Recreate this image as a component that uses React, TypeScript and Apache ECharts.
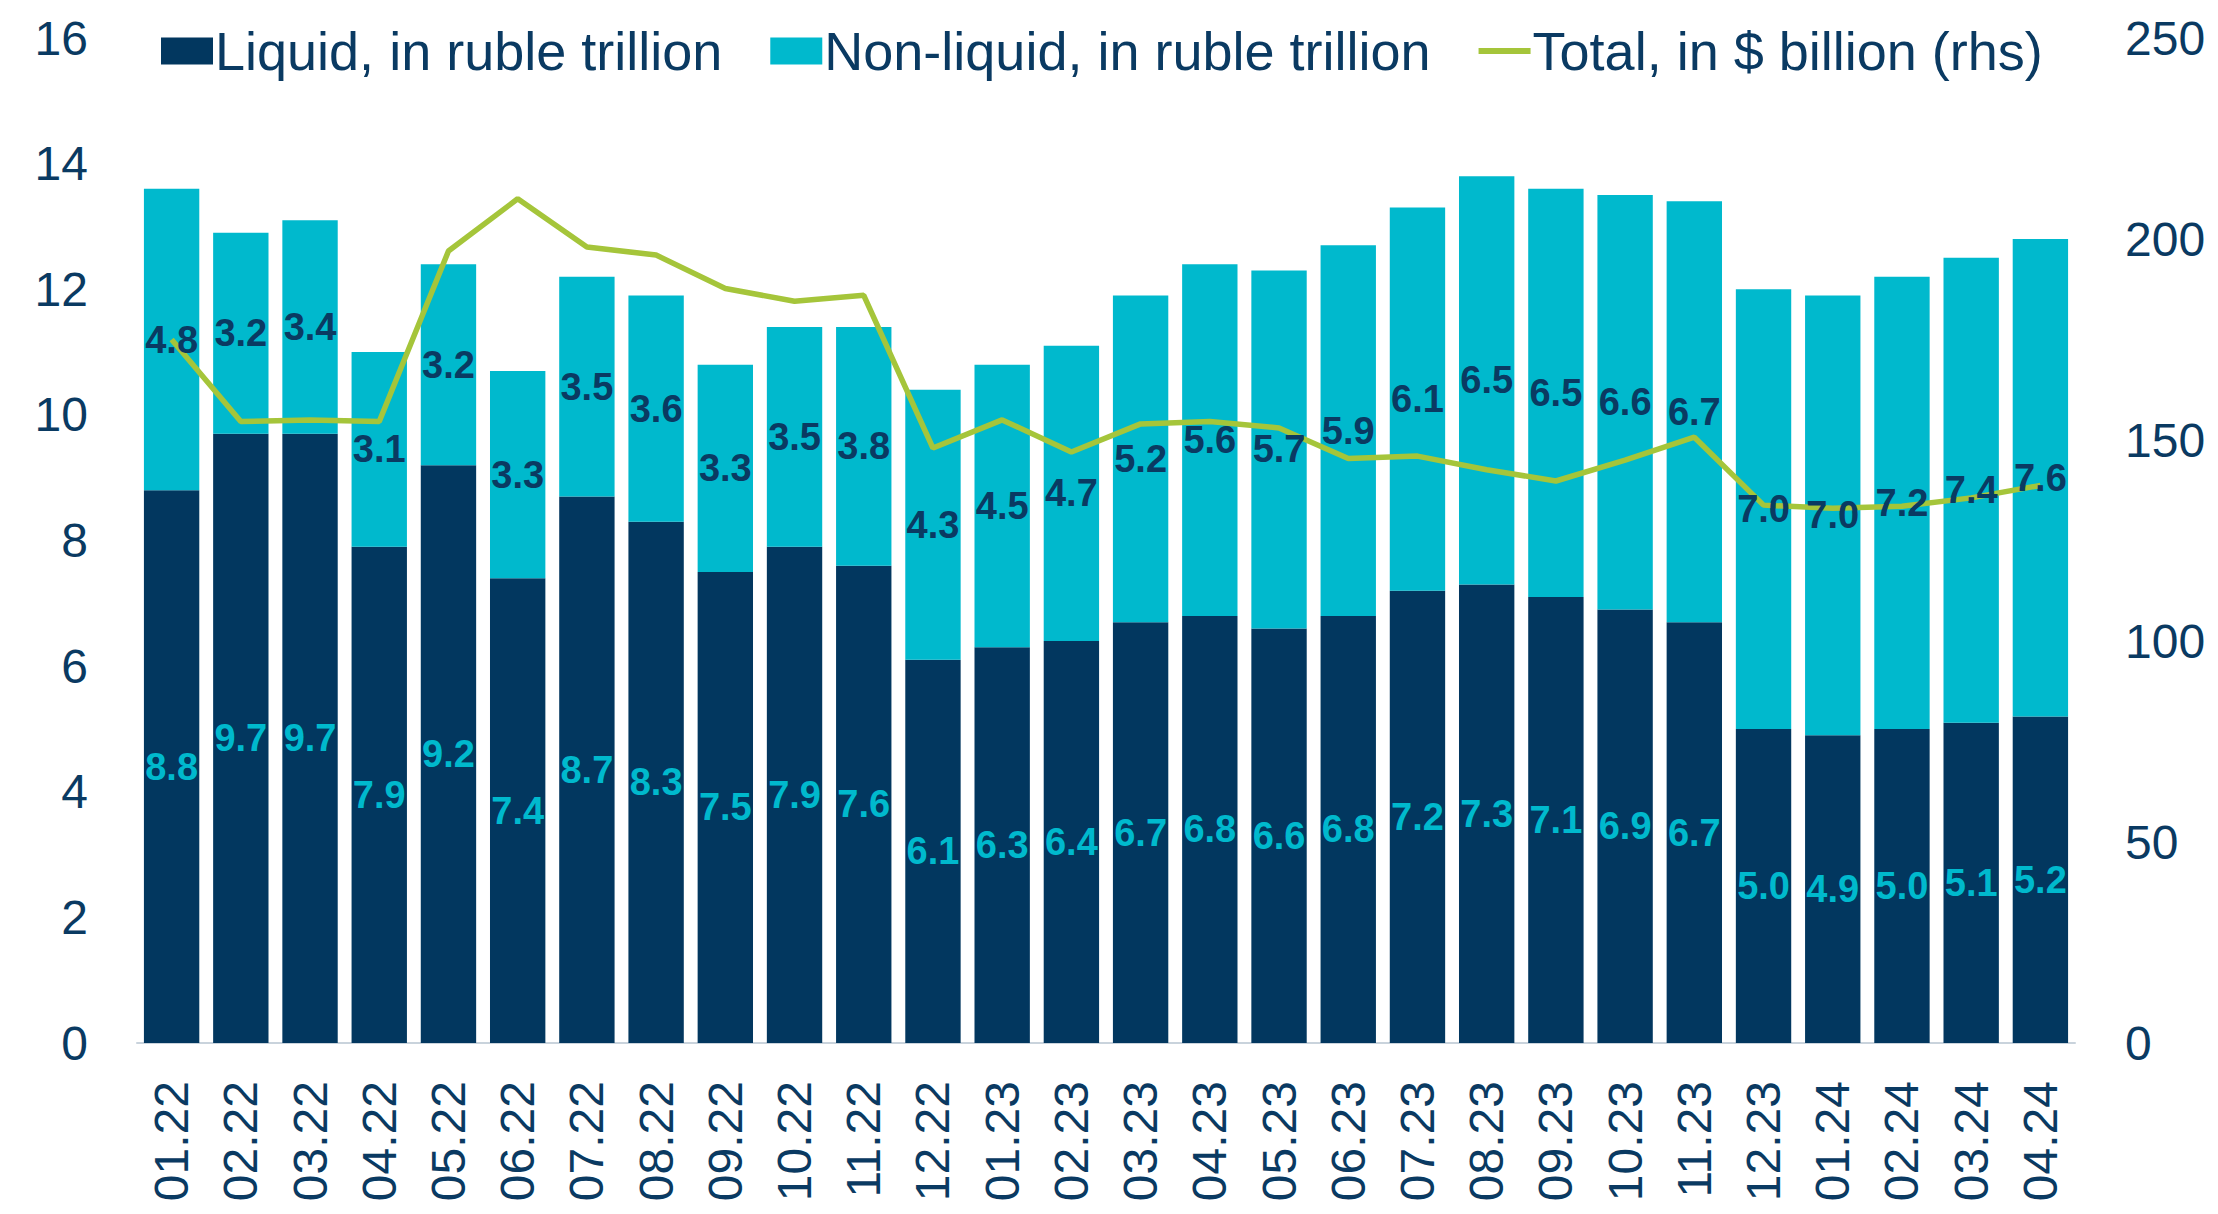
import React, { useEffect, useRef } from "react";
import * as echarts from "echarts";

const categories = ["01.22","02.22","03.22","04.22","05.22","06.22","07.22","08.22","09.22","10.22","11.22","12.22","01.23","02.23","03.23","04.23","05.23","06.23","07.23","08.23","09.23","10.23","11.23","12.23","01.24","02.24","03.24","04.24"];
const liquid = [8.8,9.7,9.7,7.9,9.2,7.4,8.7,8.3,7.5,7.9,7.6,6.1,6.3,6.4,6.7,6.8,6.6,6.8,7.2,7.3,7.1,6.9,6.7,5.0,4.9,5.0,5.1,5.2];
const nonLiquid = [4.8,3.2,3.4,3.1,3.2,3.3,3.5,3.6,3.3,3.5,3.8,4.3,4.5,4.7,5.2,5.6,5.7,5.9,6.1,6.5,6.5,6.6,6.7,7.0,7.0,7.2,7.4,7.6];
const totalUsd = [175,154.6,155,154.6,197,210,198,196,187.7,184.5,186,148,155,147,154,154.6,153,145.4,146,142.6,139.8,145,150.7,133.8,133,133.5,135.6,138.7];
const seriesNames = ["Liquid, in ruble trillion","Non-liquid, in ruble trillion","Total, in $ billion (rhs)"];

const NAVY = "#02375F";
const CYAN = "#00B9CD";
const GREEN = "#A5C53A";
const TEXT = "#0A3A62";
const FONT = "'Liberation Sans', Arial, sans-serif";

const labelStyle = (color: string) => ({
  show: true,
  position: "inside",
  color,
  fontSize: 38,
  fontWeight: "bold",
  fontFamily: FONT,
  formatter: (p: any) => Number(p.value).toFixed(1),
});

export default function App() {
  const ref = useRef<HTMLDivElement>(null);
  useEffect(() => {
    if (!ref.current) return;
    const chart = echarts.init(ref.current, null, { renderer: "svg" });
    chart.setOption({
      animation: false,
      textStyle: { fontFamily: FONT },
      legend: {
        left: 156,
        top: 16,
        itemWidth: 52,
        itemHeight: 27,
        itemGap: 48,
        textStyle: { color: TEXT, fontSize: 54, fontFamily: FONT, lineHeight: 60, padding: [0, 0, 0, -3] },
        data: [
          { name: seriesNames[0], icon: "rect" },
          { name: seriesNames[1], icon: "rect" },
          { name: seriesNames[2], icon: "path://M0,0 L52,0 L52,6 L0,6 Z", itemStyle: { color: GREEN } },
        ],
      },
      grid: { left: 137, right: 143, top: 38, bottom: 171, containLabel: false },
      xAxis: {
        type: "category",
        data: categories,
        axisLine: { show: true, lineStyle: { color: "#C9D3DC", width: 2 } },
        axisTick: { show: false },
        axisLabel: { rotate: 90, color: TEXT, fontSize: 48, fontFamily: FONT, margin: 38, interval: 0 },
      },
      yAxis: [
        {
          type: "value",
          min: 0,
          max: 16,
          interval: 2,
          splitLine: { show: false },
          axisLine: { show: false },
          axisTick: { show: false },
          axisLabel: { color: TEXT, fontSize: 48, fontFamily: FONT, margin: 49 },
        },
        {
          type: "value",
          min: 0,
          max: 250,
          interval: 50,
          splitLine: { show: false },
          axisLine: { show: false },
          axisTick: { show: false },
          axisLabel: { color: TEXT, fontSize: 48, fontFamily: FONT, margin: 50 },
        },
      ],
      series: [
        {
          name: seriesNames[0],
          type: "bar",
          stack: "a",
          data: liquid,
          barCategoryGap: "20%",
          barGap: "-100%",
          itemStyle: { color: NAVY },
          z: 2,
        },
        {
          name: seriesNames[1],
          type: "bar",
          stack: "a",
          data: nonLiquid,
          barGap: "-100%",
          itemStyle: { color: CYAN },
          z: 2,
        },
        {
          name: seriesNames[2],
          type: "line",
          yAxisIndex: 1,
          data: totalUsd,
          symbol: "none",
          z: 5,
          lineStyle: { color: GREEN, width: 5.5 },
          itemStyle: { color: GREEN },
        },
        {
          name: "lbl-liquid",
          type: "bar",
          stack: "lbl",
          data: liquid,
          barGap: "-100%",
          barCategoryGap: "20%",
          itemStyle: { color: "rgba(0,0,0,0)" },
          label: labelStyle(CYAN),
          z: 10,
          silent: true,
        },
        {
          name: "lbl-nonliquid",
          type: "bar",
          stack: "lbl",
          data: nonLiquid,
          barGap: "-100%",
          itemStyle: { color: "rgba(0,0,0,0)" },
          label: labelStyle(TEXT),
          z: 10,
          silent: true,
        },
      ],
    });
    return () => chart.dispose();
  }, []);
  return <div ref={ref} style={{ width: 2218, height: 1214, position: "absolute", left: 0, top: 0 }} />;
}
